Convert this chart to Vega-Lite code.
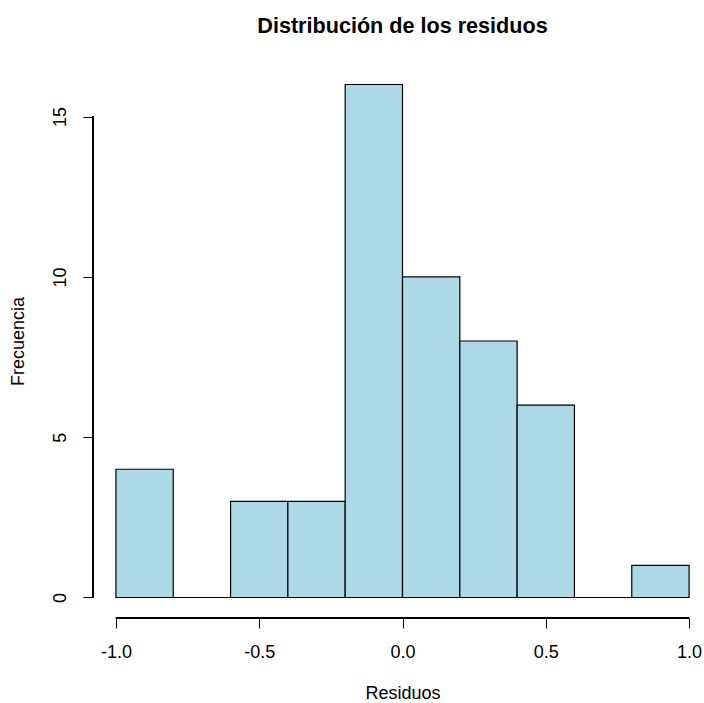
{
  "$schema": "https://vega.github.io/schema/vega-lite/v6.json",
  "autosize": {"type": "none"},
  "width": 619,
  "height": 554,
  "padding": {"left": 93, "top": 64, "right": 0, "bottom": 85},
  "background": "white",
  "config": {
    "view": {"stroke": null},
    "font": "Liberation Sans",
    "axis": {"grid": false, "domain": false, "tickColor": "black", "tickWidth": 1, "tickSize": 10, "labelFont": "Liberation Sans", "labelFontSize": 18, "labelColor": "black", "titleFont": "Liberation Sans", "titleFontSize": 18, "titleFontWeight": "normal", "titleColor": "black"}
  },
  "title": {"text": "Distribución de los residuos", "font": "Liberation Sans", "fontSize": 21.6, "fontWeight": "bold", "color": "black", "anchor": "middle", "baseline": "alphabetic", "offset": 9},
  "data": {"values": [
    {"bin_start": -1.0, "bin_end": -0.8, "count": 4},
    {"bin_start": -0.8, "bin_end": -0.6, "count": 0},
    {"bin_start": -0.6, "bin_end": -0.4, "count": 3},
    {"bin_start": -0.4, "bin_end": -0.2, "count": 3},
    {"bin_start": -0.2, "bin_end": 0.0, "count": 16},
    {"bin_start": 0.0, "bin_end": 0.2, "count": 10},
    {"bin_start": 0.2, "bin_end": 0.4, "count": 8},
    {"bin_start": 0.4, "bin_end": 0.6, "count": 6},
    {"bin_start": 0.6, "bin_end": 0.8, "count": 0},
    {"bin_start": 0.8, "bin_end": 1.0, "count": 1}
  ]},
  "layer": [
    {
      "mark": {"type": "bar", "fill": "#ADD8E6", "stroke": "black", "strokeWidth": 1.2},
      "encoding": {
        "x": {"field": "bin_start", "type": "quantitative", "scale": {"domain": [-1.08, 1.08], "nice": false, "zero": false},
              "axis": {"values": [-1, -0.5, 0, 0.5, 1], "format": ".1f", "labelExpr": "replace(datum.label, '\u2212', '-')", "labelBaseline": "middle", "labelPadding": 24, "labelFlush": false, "labelOverlap": false, "title": "Residuos", "titleBaseline": "alphabetic", "titleY": 80, "titleX": 309.5, "titleAlign": "center"}},
        "x2": {"field": "bin_end"},
        "y": {"field": "count", "type": "quantitative", "scale": {"domain": [-0.64, 16.64], "nice": false, "zero": false},
              "axis": {"values": [0, 5, 10, 15], "labelAngle": -90, "labelAlign": "center", "labelBaseline": "middle", "labelPadding": 23, "labelFlush": false, "labelOverlap": false, "title": "Frecuencia", "titleAngle": -90, "titleBaseline": "alphabetic", "titleAlign": "center", "titleX": -69.5, "titleY": 277}},
        "y2": {"datum": 0}
      }
    },
    {
      "mark": {"type": "rule", "color": "black", "strokeWidth": 1},
      "encoding": {"x": {"datum": -1}, "x2": {"datum": 1}, "y": {"datum": -0.64}}
    },
    {
      "mark": {"type": "rule", "color": "black", "strokeWidth": 1},
      "encoding": {"x": {"datum": -1.08}, "y": {"datum": 0}, "y2": {"datum": 15}}
    }
  ]
}
